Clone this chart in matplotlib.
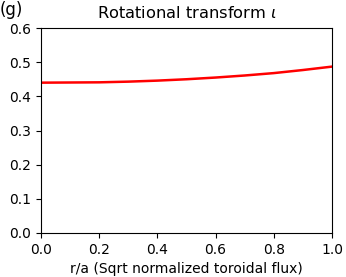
import matplotlib
matplotlib.use("Agg")
import matplotlib.pyplot as plt

# profil transformaty rotacyjnej
r_a = [0.0, 0.1, 0.2, 0.3, 0.4, 0.5, 0.6, 0.7, 0.8, 0.9, 1.0]
iota = [0.440, 0.4405, 0.441, 0.443, 0.446, 0.450, 0.455, 0.461, 0.468, 0.477, 0.487]

x_ticks = [0.0, 0.2, 0.4, 0.6, 0.8, 1.0]
y_ticks = [0.0, 0.1, 0.2, 0.3, 0.4, 0.5, 0.6]

fig = plt.figure(figsize=(3.46, 2.77), dpi=100)
ax = fig.add_axes([41/346, 1 - 233/277, 291/346, 205/277])

ax.plot(r_a, iota, color='red', linewidth=1.8)
ax.set_xlim(0, 1)
ax.set_ylim(0, 0.6)
ax.set_xticks(x_ticks)
ax.set_yticks(y_ticks)
ax.set_title(r"Rotational transform $\iota$", fontsize=11.7, pad=7)
ax.set_xlabel("r/a (Sqrt normalized toroidal flux)", fontsize=10)

fig.text(0.0, 1 - 15/277, "(g)", fontsize=12, va='baseline', ha='left')

fig.savefig("out.png", dpi=100)
